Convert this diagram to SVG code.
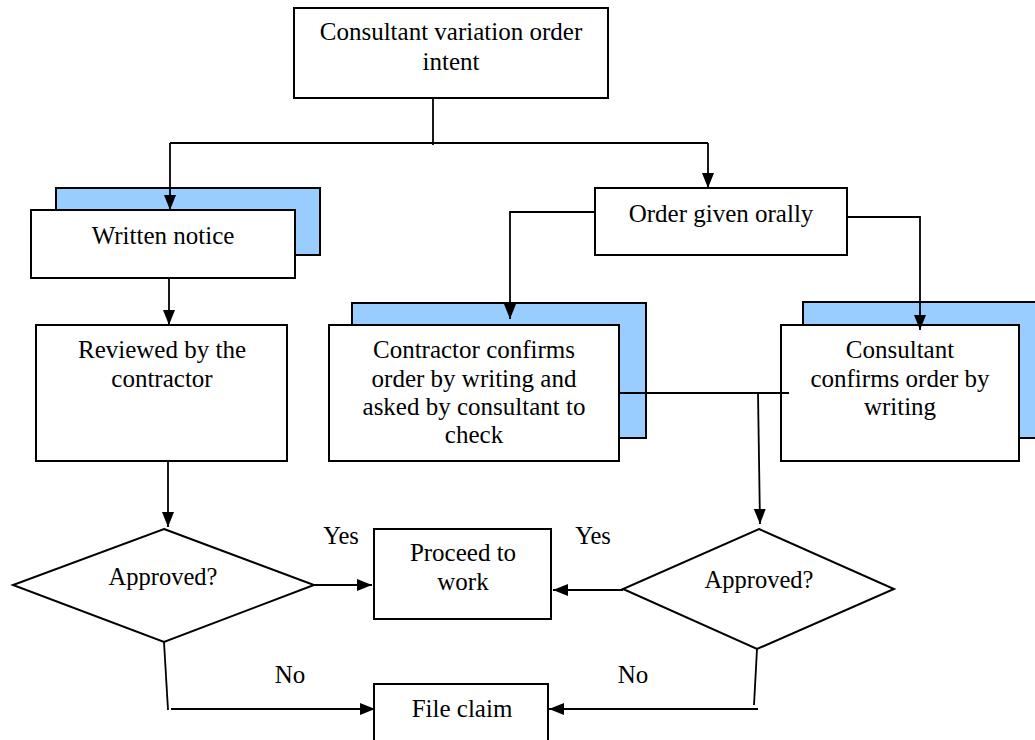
<svg xmlns="http://www.w3.org/2000/svg" width="1035" height="740" viewBox="0 0 1035 740">
<style>
.box{fill:#fff;stroke:#000;stroke-width:2}
.shadow{fill:#99ccff;stroke:#000;stroke-width:2}
.t{font-family:"Liberation Serif","Times New Roman",serif;font-size:25px;fill:#000;text-anchor:middle}
.s{font-size:24.5px}
.c{fill:none;stroke:#000;stroke-width:1.8}
</style>
<defs>
<marker id="ah" markerUnits="userSpaceOnUse" markerWidth="16" markerHeight="14" refX="15" refY="6" orient="auto">
<path d="M0,0 L15,6 L0,12 Z" fill="#000"/>
</marker>
</defs>
<rect width="1035" height="740" fill="#fff"/>

<g id="top">
<rect class="box" x="294" y="8" width="314" height="90"/>
<text class="t" x="451" y="40">Consultant variation order</text>
<text class="t" x="451" y="70">intent</text>
</g>

<g id="written">
<rect class="shadow" x="56" y="188" width="264" height="67"/>
<rect class="box" x="31" y="210" width="264" height="68"/>
<text class="t" x="163" y="244">Written notice</text>
</g>

<g id="oral">
<rect class="box" x="595" y="188" width="252" height="67"/>
<text class="t" x="721" y="222">Order given orally</text>
</g>

<g id="reviewed">
<rect class="box" x="36" y="325" width="251" height="136"/>
<text class="t" x="162" y="358">Reviewed by the</text>
<text class="t" x="162" y="387">contractor</text>
</g>

<g id="contractor">
<rect class="shadow" x="352" y="303" width="294" height="135"/>
<rect class="box" x="329" y="325" width="290" height="136"/>
<text class="t" x="474" y="358">Contractor confirms</text>
<text class="t" x="474" y="387">order by writing and</text>
<text class="t" x="474" y="415">asked by consultant to</text>
<text class="t" x="474" y="443">check</text>
</g>

<g id="consultant">
<rect class="shadow" x="803" y="302" width="245" height="136"/>
<rect class="box" x="781" y="325" width="238" height="136"/>
<text class="t" x="900" y="358">Consultant</text>
<text class="t" x="900" y="387">confirms order by</text>
<text class="t" x="900" y="415">writing</text>
</g>

<g id="approved-left">
<polygon class="box" points="164,529 314,585 164,642 13,585"/>
<text class="t s" x="163" y="585">Approved?</text>
</g>

<g id="proceed">
<rect class="box" x="374" y="529" width="177" height="90"/>
<text class="t" x="463" y="561">Proceed to</text>
<text class="t" x="463" y="590">work</text>
</g>

<g id="approved-right">
<polygon class="box" points="759,529 894,589 757,649 623,589"/>
<text class="t s" x="759" y="588">Approved?</text>
</g>

<g id="fileclaim">
<rect class="box" x="374" y="684" width="174" height="70"/>
<text class="t" x="462" y="717">File claim</text>
</g>

<g id="labels">
<text class="t s" x="341" y="544">Yes</text>
<text class="t s" x="593" y="544">Yes</text>
<text class="t" x="290" y="683">No</text>
<text class="t" x="633" y="683">No</text>
</g>

<g id="connectors">
<path class="c" d="M433,98 V145"/>
<path class="c" d="M170,143 H708"/>
<path class="c" d="M170,143 V210" marker-end="url(#ah)"/>
<path class="c" d="M708,143 V188" marker-end="url(#ah)"/>
<path class="c" d="M169,278 V325" marker-end="url(#ah)"/>
<path class="c" d="M595,212 H510 V319" marker-end="url(#ah)"/>
<path class="c" d="M847,217 H920 V330" marker-end="url(#ah)"/>
<path class="c" d="M619,393 H789"/>
<path class="c" d="M758,393 L760,524" marker-end="url(#ah)"/>
<path class="c" d="M168,461 V527" marker-end="url(#ah)"/>
<path class="c" d="M314,585 H372" marker-end="url(#ah)"/>
<path class="c" d="M623,590 H553" marker-end="url(#ah)"/>
<path class="c" d="M164,642 L168,710"/>
<path class="c" d="M171,709 H375" marker-end="url(#ah)"/>
<path class="c" d="M757,649 L754,705"/>
<path class="c" d="M758,709 H549" marker-end="url(#ah)"/>
</g>
</svg>
